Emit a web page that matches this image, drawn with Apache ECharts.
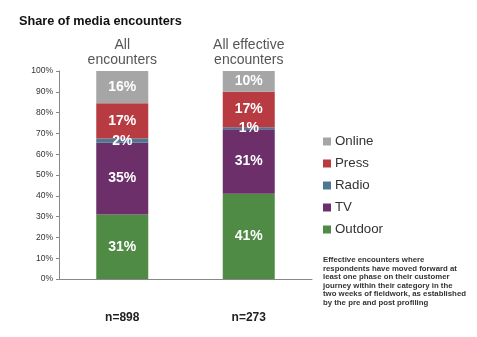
<!DOCTYPE html>
<html><head><meta charset="utf-8">
<script src="https://cdn.jsdelivr.net/npm/echarts@6/dist/echarts.min.js"></script>
<style>html,body{margin:0;padding:0;background:#fff}#c{width:477px;height:337px}</style>
</head><body><div id="c"></div>
<script>
const categoriesTop = ["All\nencounters", "All effective\nencounters"];
const categoriesBottom = ["n=898", "n=273"];
const outdoor = [31, 41];
const tv = [34.5, 31];
const radio = [2, 1];
const press = [17, 17];
const online = [15.5, 10];
const yTicks = [0, 10, 20, 30, 40, 50, 60, 70, 80, 90, 100];
const noteText = "Effective encounters where\nrespondents have moved forward at\nleast one phase on their customer\njourney within their category in the\ntwo weeks of fieldwork, as established\nby the pre and post profiling";

const FONT = "'Liberation Sans', Arial, sans-serif";
const colors = {Outdoor:'#4f8b45', TV:'#6c2f6a', Radio:'#4d7893', Press:'#b73b40', Online:'#a6a6a6'};
const seriesDefs = [["Outdoor", outdoor], ["TV", tv], ["Radio", radio], ["Press", press], ["Online", online]];

const chart = echarts.init(document.getElementById('c'));
chart.setOption({
  animation: false,
  textStyle: {fontFamily: FONT},
  title: {text: "Share of media encounters", left: 14, top: 10,
    textStyle: {fontSize: 12.7, fontWeight: 'bold', color: '#111', fontFamily: FONT}},
  legend: {orient: 'vertical', left: 318, top: 130, itemGap: 9, itemWidth: 8, itemHeight: 8,
    icon: 'rect', data: ["Online", "Press", "Radio", "TV", "Outdoor"],
    textStyle: {fontSize: 13.3, color: '#333', fontFamily: FONT, padding: [0,0,0,-1]}},
  grid: {left: 59, right: 165, top: 71, bottom: 58},
  xAxis: [
    {type: 'category', data: categoriesBottom, position: 'bottom',
      axisLine: {lineStyle: {color: '#888'}}, axisTick: {length: 3, lineStyle: {color: '#888'}},
      axisLabel: {margin: 33, fontSize: 12, fontWeight: 'bold', color: '#222', fontFamily: FONT}},
    {type: 'category', data: categoriesTop, position: 'top',
      axisLine: {show: false}, axisTick: {show: false},
      axisLabel: {margin: 3, fontSize: 14, lineHeight: 15, color: '#555', fontFamily: FONT}}
  ],
  yAxis: {type: 'value', min: 0, max: 100, interval: 10,
    splitLine: {show: false},
    axisLine: {show: true, lineStyle: {color: '#888'}},
    axisTick: {show: true, length: 3, lineStyle: {color: '#888'}},
    axisLabel: {fontSize: 8.5, color: '#333', margin: 6, fontFamily: FONT,
      formatter: v => yTicks.includes(v) ? v + '%' : ''}},
  series: seriesDefs.map(([name, vals]) => ({
    name, type: 'bar', stack: 'all', data: vals, barWidth: 52, xAxisIndex: 0,
    itemStyle: {color: colors[name]},
    label: {show: true, position: 'inside', color: '#fff', fontSize: 14, fontWeight: 'bold',
      fontFamily: FONT, formatter: p => Math.round(p.value) + '%'}
  })),
  graphic: [{type: 'text', left: 323, top: 256,
    style: {text: noteText, fontSize: 7.8, lineHeight: 8.5, fontWeight: 'bold', fill: '#333', fontFamily: FONT}}]
});
</script></body></html>
